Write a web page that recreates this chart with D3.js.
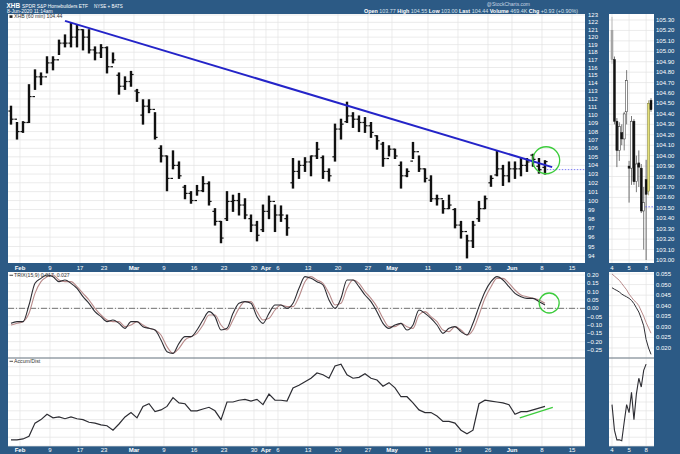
<!DOCTYPE html>
<html>
<head>
<meta charset="utf-8">
<script src="https://cdn.jsdelivr.net/npm/d3@7/dist/d3.min.js"></script>
<style>
  body { margin: 0; background: #2c5a85; }
  svg { display: block; font-family: "Liberation Sans", Arial, sans-serif; }
</style>
</head>
<body>
<svg id="chart"></svg>
<script>
// 60-min XHB, one bar per trading day (Jan 30 .. Jun 8)
const dayOpen = [110.5,109.5,108.0,109.1,112.3,114.8,114.8,116.6,117.0,119.2,
  119.2,120.0,121.0,120.0,118.3,117.9,118.6,116.1,115.0,113.6,
  114.2,113.0,110.0,111.1,110.7,106.0,105.1,102.5,104.0,101.5,
  100.8,100.0,101.1,101.9,98.8,97.7,98.0,99.9,100.0,99.5,
  98.0,97.3,96.8,98.8,99.9,98.4,98.0,102.0,103.3,104.0,
  104.4,105.1,104.9,103.3,105.0,108.3,109.2,109.9,109.5,109.1,
  108.7,107.5,106.5,104.8,105.9,104.0,102.8,104.5,105.6,103.6,
  102.3,100.2,100.2,99.1,99.0,97.3,96.6,95.6,98.0,99.1,
  102.0,102.9,103.6,102.8,103.6,103.6,104.0,105.2,103.9,103.77];
const dayHigh = [111.1,109.1,109.2,113.8,115.7,115.3,117.4,117.4,119.6,120.3,
  121.9,121.6,121.0,121.0,118.7,119.0,118.7,117.9,115.3,114.8,
  115.5,113.2,111.9,111.9,110.3,106.3,105.1,105.7,104.4,101.7,
  101.0,101.7,102.7,102.1,99.1,97.7,101.0,100.6,100.8,100.2,
  98.4,97.7,99.5,100.5,99.5,99.4,98.4,104.8,104.5,104.9,
  105.1,106.7,105.1,103.6,108.9,109.5,111.6,110.3,109.9,109.7,
  109.1,107.5,106.7,106.3,105.9,104.4,103.6,106.7,105.1,103.6,
  102.8,100.6,100.0,100.6,99.1,97.7,96.2,97.7,99.9,100.5,
  102.8,105.7,104.0,104.4,104.4,104.8,104.8,105.3,104.8,104.55];
const dayLow = [108.9,107.1,107.9,109.1,113.2,113.8,115.3,115.7,117.7,118.7,
  118.7,118.7,118.3,117.9,117.0,117.3,115.3,116.6,112.6,113.2,
  113.6,111.7,108.9,110.3,107.1,104.4,101.1,103.6,102.5,100.2,
  99.7,100.6,101.0,99.5,97.3,95.4,97.8,98.8,98.4,98.0,
  96.6,95.6,96.6,98.0,96.6,97.7,96.2,101.4,102.5,103.3,
  102.8,104.8,102.5,102.2,104.5,107.1,109.1,108.5,108.0,107.9,
  107.3,105.9,103.9,105.1,104.8,101.4,102.7,104.8,103.3,102.1,
  99.9,99.5,98.6,99.1,97.0,95.9,93.8,94.9,97.7,99.1,
  101.6,102.8,101.7,102.1,102.5,102.8,103.3,103.9,103.1,103.0];
const dayClose = [109.5,108.0,109.1,112.3,114.8,114.8,116.6,117.0,119.2,119.2,
  120.0,121.0,120.0,118.3,117.9,118.6,116.1,117.0,113.6,114.2,
  115.1,112.8,111.1,110.7,107.3,105.1,102.5,104.0,102.8,100.8,
  100.0,101.1,101.9,99.9,97.7,95.9,99.9,100.0,99.5,98.4,
  97.3,96.2,98.8,99.9,98.4,98.4,97.0,103.3,104.0,104.4,
  105.1,105.9,103.3,102.8,108.3,108.9,109.9,109.5,109.1,108.7,
  107.9,106.9,104.8,105.9,105.1,102.8,103.3,105.6,103.6,102.5,
  100.2,100.2,99.1,99.5,97.3,96.6,95.6,97.3,99.1,100.2,
  102.5,103.6,102.8,103.6,103.6,104.0,104.4,104.7,103.5,104.44];

const trixVals = [-0.09,-0.08,-0.08,0.02,0.15,0.18,0.20,0.19,0.16,0.17,
  0.15,0.12,0.07,0.03,-0.02,-0.05,-0.08,-0.07,-0.09,-0.12,
  -0.08,-0.08,-0.11,-0.12,-0.13,-0.19,-0.26,-0.27,-0.21,-0.17,
  -0.17,-0.13,-0.07,-0.02,-0.05,-0.13,-0.12,-0.03,0.03,0.04,
  0.03,-0.05,-0.09,-0.03,0.02,0.02,0.00,0.03,0.12,0.19,
  0.18,0.16,0.14,0.05,0.00,0.06,0.17,0.17,0.13,0.08,
  0.04,-0.02,-0.09,-0.12,-0.10,-0.09,-0.13,-0.10,-0.01,-0.03,
  -0.06,-0.10,-0.15,-0.12,-0.11,-0.14,-0.16,-0.09,0.01,0.10,
  0.16,0.19,0.17,0.13,0.09,0.07,0.06,0.06,0.04,0.02];
const signalVals = [-0.10,-0.09,-0.08,-0.03,0.09,0.16,0.19,0.20,0.17,0.16,
  0.16,0.13,0.09,0.05,0.00,-0.04,-0.07,-0.08,-0.08,-0.11,
  -0.10,-0.08,-0.10,-0.12,-0.13,-0.16,-0.23,-0.27,-0.24,-0.19,
  -0.17,-0.15,-0.10,-0.04,-0.04,-0.10,-0.13,-0.07,0.00,0.04,
  0.04,-0.02,-0.07,-0.06,-0.01,0.02,0.01,0.01,0.07,0.16,
  0.19,0.17,0.15,0.09,0.02,0.03,0.12,0.17,0.15,0.10,
  0.06,0.01,-0.06,-0.11,-0.11,-0.09,-0.11,-0.12,-0.04,-0.02,
  -0.05,-0.08,-0.13,-0.14,-0.11,-0.13,-0.16,-0.13,-0.04,0.06,
  0.13,0.18,0.18,0.15,0.11,0.08,0.07,0.06,0.05,0.03];

// accum/dist, no scale shown on chart -> relative units 0..100
const adVals = [7,7,8,11,26,30,36,32,33,31,
  33,31,30,27,26,24,23,18,25,33,
  38,32,45,48,39,41,45,55,49,48,
  40,40,42,44,40,30,50,50,52,53,
  51,53,47,59,52,52,51,66,69,73,
  77,83,81,77,91,93,81,77,78,82,
  77,75,68,72,66,56,56,49,41,38,
  38,34,28,28,26,18,14,18,48,52,
  51,50,49,47,36,39,39,41,43,45];

const xTicks = [2,7,12,16,21,26,31,36,41,43,45,50,55,60,64,70,75,80,84,89,94];
const xTickLabels = ["Feb","9","17","23","Mar","9","16","23","30","Apr","6","13","20","27","May","11","18","26","Jun","8","15"];
const monthLabels = ["Feb","Mar","Apr","May","Jun"];

const trendDays = [9.5, 90.7];
const trendPrices = [122.2, 103.8];
const prevClose = 103.51;

// zoomed panel: hourly candles Jun 4 .. Jun 8
const hOpen  = [105.20,104.92,104.33,104.05,104.22,104.16,104.42,103.90,103.88,104.33,103.75,103.93,103.88,103.47,103.77,103.66,104.53];
const hHigh  = [105.33,104.95,104.36,104.32,104.30,104.42,104.82,103.95,104.38,104.35,104.00,104.05,103.92,103.70,103.96,104.53,104.55];
const hLow   = [104.88,104.30,103.89,103.95,104.10,104.05,104.30,103.55,103.72,103.72,103.65,103.70,103.45,103.10,103.00,103.62,104.42];
const hClose = [104.92,104.33,104.05,104.28,104.16,104.40,104.72,103.88,104.33,103.75,103.92,103.89,103.47,103.55,103.63,104.50,104.44];
const hStyle = ["g","b","b","w","b","w","w","b","w","b","w","b","b","w","b","y","b"];
const hTicks = [0,7,14];
const hTickLabels = ["4","5","8"];
const hTrix   = [0.0485,0.0478,0.0472,0.0465,0.0455,0.0448,0.0442,0.0435,0.0425,0.0410,0.0390,0.0370,0.0340,0.0305,0.0240,0.0200,0.0170];
const hSignal = [0.0550,0.0540,0.0530,0.0520,0.0505,0.0490,0.0475,0.0455,0.0440,0.0425,0.0415,0.0400,0.0375,0.0350,0.0320,0.0295,0.0270];
const hAd = [47,18,7,7,6,27,47,38,61,30,59,77,67,86,93];

const W = 680, H = 454;
const svg = d3.select("#chart").attr("width", W).attr("height", H);
const bg = "#2c5a85", grid = "#e3e3e3", ink = "#111";

svg.append("rect").attr("width", W).attr("height", H).attr("fill", bg);

// panel geometry
const L = 8, R = 585, mL = 609, mR = 654;
const pTop = 14, pBot = 263, tTop = 272, tBot = 358, aTop = 358, aBot = 446;

const x = d3.scaleLinear().domain([0, 96.17]).range([L, R]);
const yP = d3.scaleLog().domain([94, 123]).range([256, 15]);
const yT = d3.scaleLinear().domain([-0.25, 0.20]).range([350, 275]);
const yA = d3.scaleLinear().domain([0, 100]).range([aBot, aTop]);

const xm = d3.scaleLinear().domain([0, 16]).range([612, 651]);
const yM = d3.scaleLinear().domain([103, 105.3]).range([260, 20]);
const yMT = d3.scaleLinear().domain([0.020, 0.055]).range([348, 274]);

// panel backgrounds
[[L, pTop, R, pBot], [L, tTop, R, tBot], [L, aTop, R, aBot],
 [mL, pTop, mR, pBot], [mL, tTop, mR, tBot], [mL, aTop, mR, aBot]].forEach(p => {
  svg.append("rect").attr("x", p[0]).attr("y", p[1])
    .attr("width", p[2] - p[0]).attr("height", p[3] - p[1])
    .attr("fill", "#fff");
});

function hGrid(vals, y, x0, x1) {
  svg.append("g").selectAll("line").data(vals).join("line")
    .attr("x1", x0).attr("x2", x1)
    .attr("y1", d => y(d)).attr("y2", d => y(d))
    .attr("stroke", grid).attr("stroke-width", 0.7);
}
function vGrid(pos, y0, y1) {
  svg.append("g").selectAll("line").data(pos).join("line")
    .attr("x1", d => d).attr("x2", d => d)
    .attr("y1", y0).attr("y2", y1)
    .attr("stroke", grid).attr("stroke-width", 0.7);
}

const priceTicks = d3.range(94, 124);
const trixTicks = d3.range(-25, 21, 5).map(d => d / 100);
const adTicks = d3.range(0, 101, 10);
const miniTicks = d3.range(0, 24).map(d => +(103 + d * 0.1).toFixed(2));
const miniTrixTicks = d3.range(4, 12).map(d => d * 0.005);

hGrid(priceTicks, yP, L, R);
hGrid(trixTicks, yT, L, R);
hGrid(adTicks, yA, L, R);
hGrid(miniTicks, yM, mL, mR);
hGrid(miniTrixTicks, yMT, mL, mR);
hGrid(adTicks, yA, mL, mR);
const tickX = xTicks.map(d => x(d));
vGrid(tickX, pTop, pBot);
vGrid(tickX, tTop, tBot);
vGrid(tickX, aTop, aBot);
const hTickX = hTicks.map(d => xm(d));
vGrid(hTickX, pTop, pBot);
vGrid(hTickX, tTop, tBot);
vGrid(hTickX, aTop, aBot);

// separator between TRIX and A/D
svg.append("line").attr("x1", L).attr("x2", R).attr("y1", tBot).attr("y2", tBot)
  .attr("stroke", "#4a5a6a").attr("stroke-width", 0.8);
svg.append("line").attr("x1", mL).attr("x2", mR).attr("y1", tBot).attr("y2", tBot)
  .attr("stroke", "#4a5a6a").attr("stroke-width", 0.8);

// ---- price bars (OHLC) ----
const days = d3.range(dayHigh.length);
const bars = svg.append("g").attr("stroke", ink);
bars.selectAll("line.hl").data(days).join("line").attr("class", "hl")
  .attr("x1", i => x(i + 0.5)).attr("x2", i => x(i + 0.5))
  .attr("y1", i => yP(dayHigh[i]) - 0.5).attr("y2", i => yP(dayLow[i]) + 0.5)
  .attr("stroke-width", 2.4);
bars.selectAll("line.op").data(days).join("line").attr("class", "op")
  .attr("x1", i => x(i + 0.5) - 2.6).attr("x2", i => x(i + 0.5))
  .attr("y1", i => yP(dayOpen[i])).attr("y2", i => yP(dayOpen[i]))
  .attr("stroke-width", 1.2);
bars.selectAll("line.cl").data(days).join("line").attr("class", "cl")
  .attr("x1", i => x(i + 0.5)).attr("x2", i => x(i + 0.5) + 2.6)
  .attr("y1", i => yP(dayClose[i])).attr("y2", i => yP(dayClose[i]))
  .attr("stroke-width", 1.2);

// trendline
svg.append("line")
  .attr("x1", x(trendDays[0])).attr("y1", yP(trendPrices[0]))
  .attr("x2", x(trendDays[1])).attr("y2", yP(trendPrices[1]))
  .attr("stroke", "#2424c8").attr("stroke-width", 2);

// previous close dotted
svg.append("line")
  .attr("x1", x(89.8)).attr("x2", R)
  .attr("y1", yP(prevClose)).attr("y2", yP(prevClose))
  .attr("stroke", "#5a5af0").attr("stroke-width", 0.8).attr("stroke-dasharray", "1.5,1.5");

// green circle
svg.append("circle").attr("cx", x(89.7)).attr("cy", yP(104.6)).attr("r", 13.5)
  .attr("fill", "none").attr("stroke", "#3ccc3c").attr("stroke-width", 1.3);

// ---- TRIX ----
const lineT = d3.line().x((d, i) => x(i + 0.5)).y(d => yT(d)).curve(d3.curveMonotoneX);
svg.append("line").attr("x1", L).attr("x2", R).attr("y1", yT(0)).attr("y2", yT(0))
  .attr("stroke", "#555").attr("stroke-width", 0.8).attr("stroke-dasharray", "6,2,1,2");
svg.append("path").datum(signalVals).attr("d", lineT)
  .attr("fill", "none").attr("stroke", "#b88a8a").attr("stroke-width", 1.1);
svg.append("path").datum(trixVals).attr("d", lineT)
  .attr("fill", "none").attr("stroke", "#2d2d33").attr("stroke-width", 1.1);
svg.append("circle").attr("cx", x(90.2)).attr("cy", yT(0.032)).attr("r", 10)
  .attr("fill", "none").attr("stroke", "#3ccc3c").attr("stroke-width", 1.3);

// ---- Accum/Dist ----
const lineA = d3.line().x((d, i) => x(i + 0.5)).y(d => yA(d));
svg.append("path").datum(adVals).attr("d", lineA)
  .attr("fill", "none").attr("stroke", "#2d2d33").attr("stroke-width", 1.2);
svg.append("line")
  .attr("x1", x(85.3)).attr("y1", yA(32)).attr("x2", x(90.8)).attr("y2", yA(44))
  .attr("stroke", "#3ccc3c").attr("stroke-width", 1.3);

// ---- zoomed hourly panel ----
const hIdx = d3.range(hOpen.length);
const candleFill = { b: "#111", w: "#fff", g: "#aaa", y: "#e4df78" };
const candleLine = { b: "#111", w: "#222", g: "#999", y: "#7d7a2a" };
const mc = svg.append("g");
mc.selectAll("line").data(hIdx).join("line")
  .attr("x1", k => xm(k)).attr("x2", k => xm(k))
  .attr("y1", k => yM(hHigh[k])).attr("y2", k => yM(hLow[k]))
  .attr("stroke", k => candleLine[hStyle[k]]).attr("stroke-width", 0.6);
mc.selectAll("rect").data(hIdx).join("rect")
  .attr("x", k => xm(k) - 1).attr("width", 2)
  .attr("y", k => yM(Math.max(hOpen[k], hClose[k])))
  .attr("height", k => Math.max(0.8, Math.abs(yM(hOpen[k]) - yM(hClose[k]))))
  .attr("fill", k => candleFill[hStyle[k]])
  .attr("stroke", k => candleLine[hStyle[k]]).attr("stroke-width", 0.5);
svg.append("line").attr("x1", xm(13.7)).attr("x2", mR)
  .attr("y1", yM(prevClose)).attr("y2", yM(prevClose))
  .attr("stroke", "#5a5af0").attr("stroke-width", 0.8).attr("stroke-dasharray", "1.5,1.5");

const lineMT = d3.line().x((d, i) => xm(i)).y(d => yMT(d));
svg.append("path").datum(hSignal).attr("d", lineMT)
  .attr("fill", "none").attr("stroke", "#b88a8a").attr("stroke-width", 1);
svg.append("path").datum(hTrix).attr("d", lineMT)
  .attr("fill", "none").attr("stroke", "#2d2d33").attr("stroke-width", 1);
const lineMA = d3.line().x((d, i) => xm(i)).y(d => yA(d));
svg.append("path").datum(hAd).attr("d", lineMA)
  .attr("fill", "none").attr("stroke", "#2d2d33").attr("stroke-width", 1.1);

// ---- axis labels ----
function rightLabels(vals, y, xPos, fmt) {
  svg.append("g").selectAll("text").data(vals).join("text")
    .attr("x", xPos).attr("y", d => y(d) + 2)
    .attr("fill", "#fff").attr("font-size", 6)
    .text(fmt);
}
rightLabels(priceTicks, yP, 588, d => d);
rightLabels(trixTicks, yT, 587, d3.format(".2f"));
rightLabels(miniTicks, yM, 656, d3.format(".2f"));
rightLabels(miniTrixTicks, yMT, 656, d3.format(".3f"));

function bottomLabels(pos, labels, yBase) {
  svg.append("g").selectAll("text").data(labels).join("text")
    .attr("x", (d, i) => pos[i]).attr("y", yBase)
    .attr("text-anchor", "middle").attr("fill", "#fff")
    .attr("font-size", 6)
    .attr("font-weight", d => monthLabels.includes(d) ? "bold" : "normal")
    .text(d => d);
}
bottomLabels(tickX, xTickLabels, 270);
bottomLabels(tickX, xTickLabels, 451.5);
bottomLabels(hTickX, hTickLabels, 270);
bottomLabels(hTickX, hTickLabels, 451.5);

// ---- header ----
const hdr = svg.append("g").attr("fill", "#fff");
hdr.append("text").attr("x", 6.5).attr("y", 7.5).attr("font-size", 6.4).attr("font-weight", "bold").text("XHB");
hdr.append("text").attr("x", 22).attr("y", 7.5).attr("font-size", 5.3)
  .attr("textLength", 66).attr("lengthAdjust", "spacingAndGlyphs").text("SPDR S&P Homebuilders ETF");
hdr.append("text").attr("x", 94).attr("y", 7.5).attr("font-size", 4.5).text("NYSE + BATS");
hdr.append("text").attr("x", 7).attr("y", 12.8).attr("font-size", 5).text("8-Jun-2020 11:14am");
hdr.append("text").attr("x", 530).attr("y", 5.5).attr("text-anchor", "end")
  .attr("font-size", 5).attr("fill", "#c9d6e3").text("@StockCharts.com");

const quote = [["Open", "103.77"], ["High", "104.55"], ["Low", "103.00"], ["Last", "104.44"],
  ["Volume", "469.4K"], ["Chg", "+0.93 (+0.90%)"]];
const qt = hdr.append("text").attr("x", 578).attr("y", 12.5).attr("text-anchor", "end").attr("font-size", 5.4);
quote.forEach((q, i) => {
  qt.append("tspan").attr("font-weight", "bold").text((i ? "  " : "") + q[0] + " ");
  qt.append("tspan").attr("fill", "#d8e2ec").text(q[1]);
});

// legends
const lg = svg.append("g").attr("fill", "#333").attr("font-size", 5.2);
lg.append("rect").attr("x", 9.5).attr("y", 15.3).attr("width", 3).attr("height", 2.6).attr("fill", "#222");
lg.append("text").attr("x", 14).attr("y", 18.2).text("XHB (60 min) 104.44");
lg.append("line").attr("x1", 9.5).attr("x2", 13).attr("y1", 275.3).attr("y2", 275.3).attr("stroke", "#222").attr("stroke-width", 0.8);
lg.append("text").attr("x", 14).attr("y", 277.2).text("TRIX(15,9) 0.017, 0.027");
lg.append("line").attr("x1", 9.5).attr("x2", 13).attr("y1", 361.3).attr("y2", 361.3).attr("stroke", "#222").attr("stroke-width", 0.8);
lg.append("text").attr("x", 14).attr("y", 363.2).text("Accum/Dist");
</script>
</body>
</html>
